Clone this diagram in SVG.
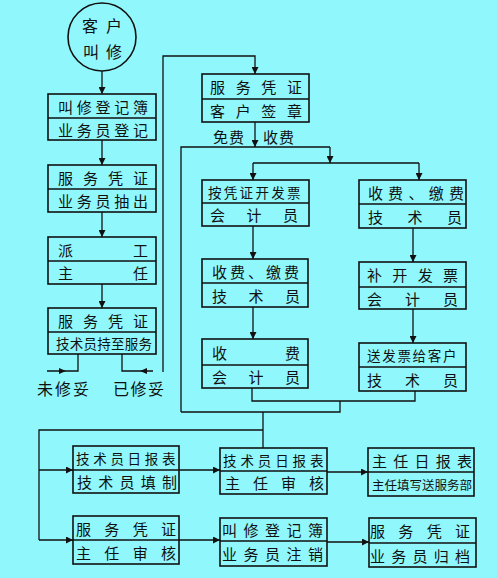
<svg xmlns="http://www.w3.org/2000/svg" width="497" height="578" viewBox="0 0 497 578">
<style>
.bx{fill:none;stroke:#111;stroke-width:1.6}
.dv{stroke:#111;stroke-width:1.4}
.ln{fill:none;stroke:#111;stroke-width:1.3}
.ar{fill:none;stroke:#111;stroke-width:1.3;marker-end:url(#ah)}
.t{font-family:"Noto Sans CJK SC","Noto Sans CJK TC",sans-serif;font-size:15px;fill:#111;dominant-baseline:central}
.s{font-size:13.5px}
.xs{font-size:12.5px}
.l{font-size:16px}
</style>
<defs>
<marker id="ah" viewBox="0 0 10 10" refX="10" refY="5" markerWidth="7" markerHeight="7" markerUnits="userSpaceOnUse" orient="auto">
<path d="M0,0 L10,5 L0,10 z" fill="#111"/>
</marker>
</defs>
<rect x="0" y="0" width="497" height="578" fill="#90F8FC"/>

<g id="connectors">
<path class="ar" d="M102,71 V94"/>
<path class="ar" d="M102,140 V165"/>
<path class="ar" d="M102,212 V237"/>
<path class="ar" d="M102,284 V308"/>
<path class="ln" d="M78,354 V371 H47"/>
<path d="M66,371 L59,368 L59,374 z" fill="#111"/>
<path class="ln" d="M122,354 V371 H153"/>
<path d="M140,371 L147,368 L147,374 z" fill="#111"/>
<path class="ar" d="M163,372 V56 H255 V74"/>
<path class="ar" d="M255,122 V147"/>
<path class="ln" d="M181,412 V147 H330"/>
<path class="ar" d="M330,147 V163"/>
<path class="ln" d="M253,163 H419"/>
<path class="ar" d="M253,163 V180"/>
<path class="ar" d="M419,163 V180"/>
<path class="ar" d="M253,226 V259"/>
<path class="ar" d="M253,307 V339"/>
<path class="ar" d="M413,228 V262"/>
<path class="ar" d="M413,309 V343"/>
<path class="ln" d="M252,388 V401 H415 V391"/>
<path class="ln" d="M340,401 V412 H181"/>
<path class="ln" d="M263,412 V448"/>
<path class="ln" d="M263,430 H39 V540"/>
<path class="ar" d="M39,470 H73"/>
<path class="ar" d="M39,540 H73"/>
<path class="ar" d="M179,470 H220"/>
<path class="ar" d="M327,472 H368"/>
<path class="ar" d="M179,540 H220"/>
<path class="ar" d="M327,542 H369"/>
</g>

<g id="start">
<circle cx="102" cy="37" r="34" class="bx"/>
<text class="t l" x="82 106" y="25">客户</text>
<text class="t l" x="83 106" y="51">叫修</text>
</g>

<g id="n1">
<rect class="bx" x="48" y="94" width="108" height="46"/>
<line class="dv" x1="48" y1="118" x2="156" y2="118"/>
<text class="t" x="58 76.75 95.5 114.25 133" y="106">叫修登记簿</text>
<text class="t" x="58 76.75 95.5 114.25 133" y="129">业务员登记</text>
</g>

<g id="n2">
<rect class="bx" x="48" y="165" width="108" height="47"/>
<line class="dv" x1="48" y1="189" x2="156" y2="189"/>
<text class="t" x="58 83 108 133" y="177">服务凭证</text>
<text class="t" x="58 76.75 95.5 114.25 133" y="200.5">业务员抽出</text>
</g>

<g id="n3">
<rect class="bx" x="48" y="237" width="108" height="47"/>
<line class="dv" x1="48" y1="261" x2="156" y2="261"/>
<text class="t" x="58 133" y="249">派工</text>
<text class="t" x="58 133" y="272.5">主任</text>
</g>

<g id="n4">
<rect class="bx" x="48" y="308" width="108" height="46"/>
<line class="dv" x1="48" y1="332" x2="156" y2="332"/>
<text class="t" x="58 83 108 133" y="320">服务凭证</text>
<text class="t s" x="56 69.75 83.5 97.25 111 124.75 138.5" y="343">技术员持至服务</text>
</g>

<g id="lbl-out">
<text class="t l" x="37 55 73" y="388">未修妥</text>
<text class="t l" x="113 130.5 148" y="388">已修妥</text>
<text class="t" x="213 229" y="136">免费</text>
<text class="t" x="263 279" y="136">收费</text>
</g>

<g id="n5">
<rect class="bx" x="202" y="74" width="107" height="48"/>
<line class="dv" x1="202" y1="99" x2="309" y2="99"/>
<text class="t" x="210 235.7 261.3 287" y="86.5">服务凭证</text>
<text class="t" x="210 235.7 261.3 287" y="110.5">客户签章</text>
</g>

<g id="m1">
<rect class="bx" x="202" y="180" width="107" height="46"/>
<line class="dv" x1="202" y1="203" x2="309" y2="203"/>
<text class="t s" x="208 223.8 239.6 255.4 271.2 287" y="191.5">按凭证开发票</text>
<text class="t" x="210 246.5 283" y="214.5">会计员</text>
</g>

<g id="r1">
<rect class="bx" x="359" y="180" width="107" height="48"/>
<line class="dv" x1="359" y1="204" x2="466" y2="204"/>
<text class="t" x="368 388 408.5 428.75 449" y="192">收费、缴费</text>
<text class="t" x="368 407.5 447" y="216">技术员</text>
</g>

<g id="m2">
<rect class="bx" x="202" y="259" width="106" height="48"/>
<line class="dv" x1="202" y1="283" x2="308" y2="283"/>
<text class="t" x="212 230 248 266 284" y="271">收费、缴费</text>
<text class="t" x="212 248.5 285" y="295">技术员</text>
</g>

<g id="r2">
<rect class="bx" x="359" y="262" width="107" height="47"/>
<line class="dv" x1="359" y1="287" x2="466" y2="287"/>
<text class="t" x="367 392.3 417.7 443" y="274.5">补开发票</text>
<text class="t" x="367 405 443" y="298">会计员</text>
</g>

<g id="m3">
<rect class="bx" x="202" y="339" width="106" height="49"/>
<line class="dv" x1="202" y1="365" x2="308" y2="365"/>
<text class="t" x="212 285" y="352">收费</text>
<text class="t" x="212 248.5 285" y="376.5">会计员</text>
</g>

<g id="r3">
<rect class="bx" x="359" y="343" width="107" height="48"/>
<line class="dv" x1="359" y1="367" x2="466" y2="367"/>
<text class="t s" x="367 382.2 397.4 412.6 427.8 443" y="355">送发票给客户</text>
<text class="t" x="367 405 443" y="379">技术员</text>
</g>

<g id="bA">
<rect class="bx" x="73" y="446" width="106" height="47"/>
<line class="dv" x1="73" y1="470" x2="179" y2="470"/>
<text class="t s" x="76 93.2 110.4 127.6 144.8 162" y="458">技术员日报表</text>
<text class="t" x="77 98.25 119.5 140.75 162" y="481.5">技术员填制</text>
</g>

<g id="bB">
<rect class="bx" x="73" y="516" width="106" height="48"/>
<line class="dv" x1="73" y1="540" x2="179" y2="540"/>
<text class="t" x="76 104.3 132.7 161" y="528">服务凭证</text>
<text class="t" x="76 104.3 132.7 161" y="552">主任审核</text>
</g>

<g id="bC">
<rect class="bx" x="220" y="448" width="107" height="46"/>
<line class="dv" x1="220" y1="471" x2="327" y2="471"/>
<text class="t s" x="223 240.4 257.8 275.2 292.6 310" y="459.5">技术员日报表</text>
<text class="t" x="225 253 281 309" y="482.5">主任审核</text>
</g>

<g id="bD">
<rect class="bx" x="368" y="448" width="106" height="48"/>
<line class="dv" x1="368" y1="472" x2="474" y2="472"/>
<text class="t" x="372 393.25 414.5 435.75 457" y="460">主任日报表</text>
<text class="t xs" x="372 384.5 397 409.5 422 434.5 447 459.5" y="484">主任填写送服务部</text>
</g>

<g id="bE">
<rect class="bx" x="220" y="518" width="107" height="48"/>
<line class="dv" x1="220" y1="541" x2="327" y2="541"/>
<text class="t" x="222 243.5 265 286.5 308" y="529.5">叫修登记簿</text>
<text class="t" x="222 243.5 265 286.5 308" y="553.5">业务员注销</text>
</g>

<g id="bF">
<rect class="bx" x="369" y="518" width="107" height="49"/>
<line class="dv" x1="369" y1="543" x2="476" y2="543"/>
<text class="t" x="370 398.3 426.7 455" y="530.5">服务凭证</text>
<text class="t" x="370 391.25 412.5 433.75 455" y="555">业务员归档</text>
</g>
</svg>
